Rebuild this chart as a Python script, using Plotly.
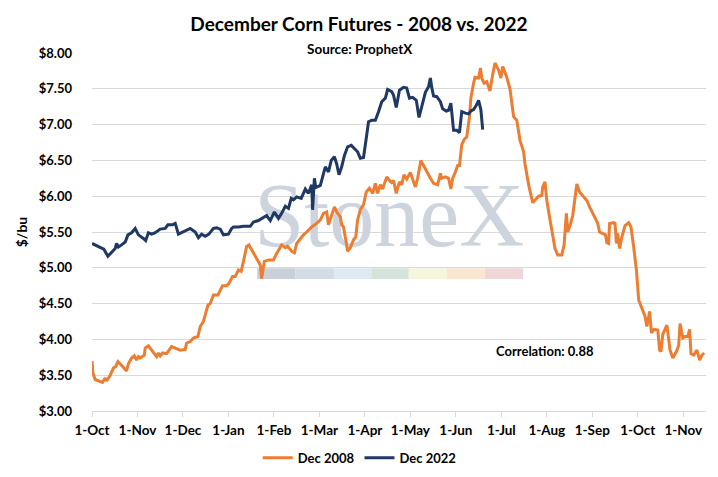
import plotly.graph_objects as go

# x = months since 1-Oct (evenly spaced month axis), y = $/bu
month_labels = ["1-Oct", "1-Nov", "1-Dec", "1-Jan", "1-Feb", "1-Mar", "1-Apr",
                "1-May", "1-Jun", "1-Jul", "1-Aug", "1-Sep", "1-Oct", "1-Nov"]

dec2022_x = [0.00, 0.09, 0.20, 0.26, 0.35, 0.43, 0.51, 0.54, 0.58, 0.65, 0.73, 0.79, 0.87, 0.95,
             1.02, 1.13, 1.18, 1.24, 1.31, 1.39, 1.50, 1.61, 1.67, 1.77, 1.83, 1.90, 2.01, 2.16,
             2.27, 2.34, 2.41, 2.49, 2.57, 2.67, 2.74, 2.82, 2.89, 3.00, 3.07, 3.11, 3.22, 3.33,
             3.48, 3.55, 3.66, 3.77, 3.84, 3.92, 4.01, 4.10, 4.17, 4.25, 4.32, 4.38, 4.43, 4.50,
             4.60, 4.69, 4.76, 4.83, 4.85, 4.89, 4.92, 5.02, 5.09, 5.13, 5.20, 5.26, 5.33, 5.38,
             5.43, 5.49, 5.55, 5.62, 5.70, 5.77, 5.84, 5.90, 5.97, 6.03, 6.08, 6.15, 6.23, 6.30,
             6.37, 6.45, 6.50, 6.59, 6.63, 6.69, 6.76, 6.85, 6.92, 6.98, 7.05, 7.13, 7.19, 7.25,
             7.33, 7.40, 7.44, 7.47, 7.51, 7.58, 7.66, 7.71, 7.79, 7.84, 7.89, 7.95, 8.02, 8.08,
             8.13, 8.21, 8.28, 8.33, 8.39, 8.45, 8.50, 8.55, 8.59]
dec2022_y = [5.34, 5.31, 5.27, 5.26, 5.16, 5.21, 5.27, 5.34, 5.29, 5.32, 5.36, 5.46, 5.49, 5.55,
             5.46, 5.41, 5.38, 5.49, 5.47, 5.49, 5.54, 5.55, 5.60, 5.60, 5.62, 5.47, 5.50, 5.55,
             5.50, 5.42, 5.47, 5.44, 5.47, 5.55, 5.56, 5.54, 5.46, 5.47, 5.55, 5.57, 5.57, 5.58,
             5.58, 5.64, 5.66, 5.70, 5.73, 5.66, 5.78, 5.69, 5.76, 5.86, 5.83, 5.97, 5.95, 5.99,
             5.97, 6.10, 6.04, 6.16, 5.81, 6.25, 6.12, 6.15, 6.32, 6.41, 6.34, 6.50, 6.55, 6.45,
             6.30, 6.41, 6.57, 6.69, 6.71, 6.67, 6.62, 6.53, 6.54, 6.81, 7.04, 7.06, 7.06, 7.18,
             7.32, 7.37, 7.49, 7.46, 7.41, 7.24, 7.48, 7.52, 7.51, 7.37, 7.38, 7.34, 7.10, 7.25,
             7.45, 7.53, 7.65, 7.52, 7.40, 7.39, 7.32, 7.22, 7.19, 7.20, 7.30, 6.92, 6.92, 6.89,
             7.18, 7.16, 7.15, 7.19, 7.21, 7.27, 7.34, 7.21, 6.93]

dec2008_x = [0.00, 0.02, 0.07, 0.14, 0.23, 0.29, 0.32, 0.40, 0.47, 0.52, 0.57, 0.65, 0.76, 0.80,
             0.87, 0.93, 0.98, 1.02, 1.06, 1.15, 1.17, 1.24, 1.31, 1.42, 1.46, 1.50, 1.55, 1.64,
             1.75, 1.83, 1.94, 2.05, 2.08, 2.16, 2.23, 2.33, 2.38, 2.45, 2.49, 2.55, 2.60, 2.67,
             2.77, 2.82, 2.87, 2.96, 3.01, 3.09, 3.15, 3.22, 3.28, 3.33, 3.40, 3.45, 3.51, 3.59,
             3.66, 3.70, 3.73, 3.79, 3.88, 3.99, 4.06, 4.17, 4.25, 4.30, 4.39, 4.45, 4.50, 4.58,
             4.65, 4.72, 4.83, 4.94, 5.02, 5.09, 5.16, 5.20, 5.27, 5.33, 5.38, 5.46, 5.49, 5.53,
             5.58, 5.62, 5.68, 5.75, 5.80, 5.84, 5.90, 5.97, 6.03, 6.10, 6.17, 6.23, 6.28, 6.34,
             6.39, 6.48, 6.54, 6.59, 6.63, 6.69, 6.76, 6.81, 6.86, 6.92, 7.00, 7.05, 7.11, 7.16,
             7.23, 7.29, 7.36, 7.44, 7.51, 7.60, 7.66, 7.69, 7.77, 7.84, 7.89, 7.93, 7.99, 8.04,
             8.08, 8.13, 8.18, 8.24, 8.30, 8.33, 8.39, 8.42, 8.50, 8.54, 8.57, 8.62, 8.68, 8.75,
             8.81, 8.86, 8.94, 8.99, 9.03, 9.11, 9.19, 9.27, 9.34, 9.41, 9.49, 9.52, 9.57, 9.61,
             9.69, 9.77, 9.82, 9.89, 9.91, 9.96, 10.00, 10.07, 10.15, 10.18, 10.24, 10.33, 10.38,
             10.43, 10.46, 10.51, 10.57, 10.62, 10.66, 10.72, 10.81, 10.88, 10.94, 11.01, 11.09,
             11.12, 11.16, 11.23, 11.29, 11.32, 11.36, 11.38, 11.47, 11.50, 11.53, 11.56, 11.60,
             11.65, 11.72, 11.80, 11.85, 11.91, 11.97, 12.02, 12.09, 12.16, 12.20, 12.26, 12.30,
             12.36, 12.44, 12.48, 12.51, 12.55, 12.64, 12.68, 12.71, 12.77, 12.85, 12.90, 12.93,
             12.99, 13.04, 13.10, 13.14, 13.17, 13.23, 13.30, 13.36, 13.41, 13.46]
dec2008_y = [3.70, 3.53, 3.44, 3.42, 3.40, 3.46, 3.42, 3.50, 3.60, 3.62, 3.69, 3.64, 3.56, 3.66,
             3.74, 3.77, 3.71, 3.76, 3.74, 3.78, 3.88, 3.91, 3.85, 3.76, 3.81, 3.77, 3.81, 3.80,
             3.90, 3.88, 3.85, 3.86, 3.95, 3.97, 4.02, 4.04, 4.18, 4.25, 4.36, 4.48, 4.50, 4.62,
             4.62, 4.69, 4.75, 4.75, 4.78, 4.88, 4.88, 4.97, 4.95, 5.09, 5.30, 5.32, 5.25, 5.16,
             5.09, 5.04, 4.85, 5.09, 5.11, 5.11, 5.20, 5.32, 5.28, 5.30, 5.23, 5.21, 5.34, 5.41,
             5.46, 5.50, 5.57, 5.62, 5.67, 5.76, 5.78, 5.60, 5.74, 5.85, 5.78, 5.71, 5.60, 5.57,
             5.39, 5.23, 5.28, 5.39, 5.43, 5.67, 5.81, 5.88, 6.06, 6.11, 6.04, 6.18, 6.04, 6.16,
             6.10, 6.27, 6.22, 6.19, 6.22, 6.04, 6.20, 6.16, 6.30, 6.24, 6.33, 6.25, 6.13, 6.25,
             6.50, 6.43, 6.34, 6.25, 6.18, 6.16, 6.32, 6.25, 6.27, 6.25, 6.10, 6.25, 6.34, 6.43,
             6.43, 6.72, 6.79, 6.83, 7.11, 7.37, 7.58, 7.66, 7.65, 7.79, 7.65, 7.58, 7.60, 7.47,
             7.70, 7.86, 7.76, 7.65, 7.81, 7.68, 7.50, 7.11, 7.06, 6.78, 6.62, 6.45, 6.27, 6.13,
             5.91, 5.96, 6.00, 6.01, 6.13, 6.20, 5.94, 5.67, 5.39, 5.27, 5.18, 5.18, 5.32,
             5.76, 5.50, 5.59, 5.73, 5.97, 6.17, 6.06, 6.00, 5.94, 5.85, 5.76, 5.67,
             5.62, 5.50, 5.48, 5.46, 5.35, 5.34, 5.62, 5.63, 5.62, 5.34, 5.48, 5.27,
             5.43, 5.59, 5.63, 5.57, 5.29, 4.97, 4.55, 4.43, 4.32, 4.18, 4.39, 4.09,
             4.14, 4.13, 3.85, 3.83, 4.07, 4.20, 4.00, 3.85, 3.74, 3.83, 3.92, 4.22,
             4.02, 4.04, 4.04, 4.14, 3.80, 3.78, 3.85, 3.71, 3.78, 3.81]

y_ticks = [3.0, 3.5, 4.0, 4.5, 5.0, 5.5, 6.0, 6.5, 7.0, 7.5, 8.0]
correlation_text = "Correlation: 0.88"

ORANGE = "#ED7D31"
NAVY = "#1F3864"
GRID = "#D9D9D9"
FONT = "Lato"
x_range = [0, 13.5]
y_range = [3.0, 8.0]

fig = go.Figure()

# watermark text (drawn first so the lines sit on top)
fig.add_trace(go.Scatter(
    x=[x_range[0] + 0.484 * (x_range[1] - x_range[0])],
    y=[y_range[0] + 0.523 * (y_range[1] - y_range[0])],
    mode="text", text=["StoneX"], textposition="middle center",
    textfont=dict(family="Liberation Serif", size=90, color="#CDD4DD"),
    hoverinfo="skip", showlegend=False))

fig.add_trace(go.Scatter(x=dec2008_x, y=dec2008_y, mode="lines", name="Dec 2008",
                         line=dict(color=ORANGE, width=3)))
fig.add_trace(go.Scatter(x=dec2022_x, y=dec2022_y, mode="lines", name="Dec 2022",
                         line=dict(color=NAVY, width=3)))

# watermark colour band
band_colors = ["#C9D0D9", "#D2DCE7", "#DEEAF3", "#D5E4DA", "#F6F5DD", "#FAE7D2", "#F1D6D8"]
band_edges = [0.269, 0.331, 0.394, 0.455, 0.516, 0.578, 0.640, 0.702]
for i, c in enumerate(band_colors):
    fig.add_shape(type="rect", xref="paper", yref="paper",
                  x0=band_edges[i], x1=band_edges[i + 1], y0=0.369, y1=0.399,
                  fillcolor=c, line=dict(width=0), layer="between")

fig.update_layout(
    width=718, height=477,
    margin=dict(l=92, r=12, t=53, b=66, autoexpand=False),
    paper_bgcolor="white", plot_bgcolor="white",
    font=dict(family=FONT, size=13, color="#000000"),
    title=dict(text="December Corn Futures - 2008 vs. 2022", x=0.5, xanchor="center",
               xref="container", yref="container", y=0.95, yanchor="middle",
               font=dict(family=FONT, size=19, weight="bold", color="#000000")),
    showlegend=True,
    legend=dict(orientation="h", xref="container", yref="container",
                x=0.501, xanchor="center", y=0.04, yanchor="middle",
                font=dict(family=FONT, size=13, weight="bold"), itemwidth=30,
                tracegroupgap=0),
    xaxis=dict(range=x_range, tickmode="array", tickvals=list(range(len(month_labels))),
               ticktext=month_labels, showgrid=False, zeroline=False, automargin=False,
               showline=True, linecolor=GRID, linewidth=1,
               ticks="outside", ticklen=5, tickcolor=GRID, ticklabelstandoff=2,
               tickfont=dict(family=FONT, size=13.5, weight="bold")),
    yaxis=dict(range=y_range, tickmode="array", tickvals=y_ticks, tickformat="$.2f",
               showgrid=True, gridcolor=GRID, gridwidth=1, zeroline=False, automargin=False,
               showline=False, ticks="", ticklabelstandoff=19,
               tickfont=dict(family=FONT, size=13, weight="bold"),
               title=dict(text="$/bu", standoff=7,
                          font=dict(family=FONT, size=14, weight="bold"))),
    annotations=[
        dict(text="Source: ProphetX", xref="paper", yref="paper", x=0.4365, y=1.0,
             xanchor="center", yanchor="bottom", yshift=-6, showarrow=False,
             font=dict(family=FONT, size=13.5, weight="bold")),
        dict(text=correlation_text, xref="x", yref="y", x=9.96, y=3.84,
             xanchor="center", yanchor="middle", showarrow=False,
             font=dict(family=FONT, size=13, weight="bold")),
    ],
)

fig.write_html("out.html", config={"displayModeBar": False},
               post_script="document.body.style.margin='0';document.body.style.padding='0';")
